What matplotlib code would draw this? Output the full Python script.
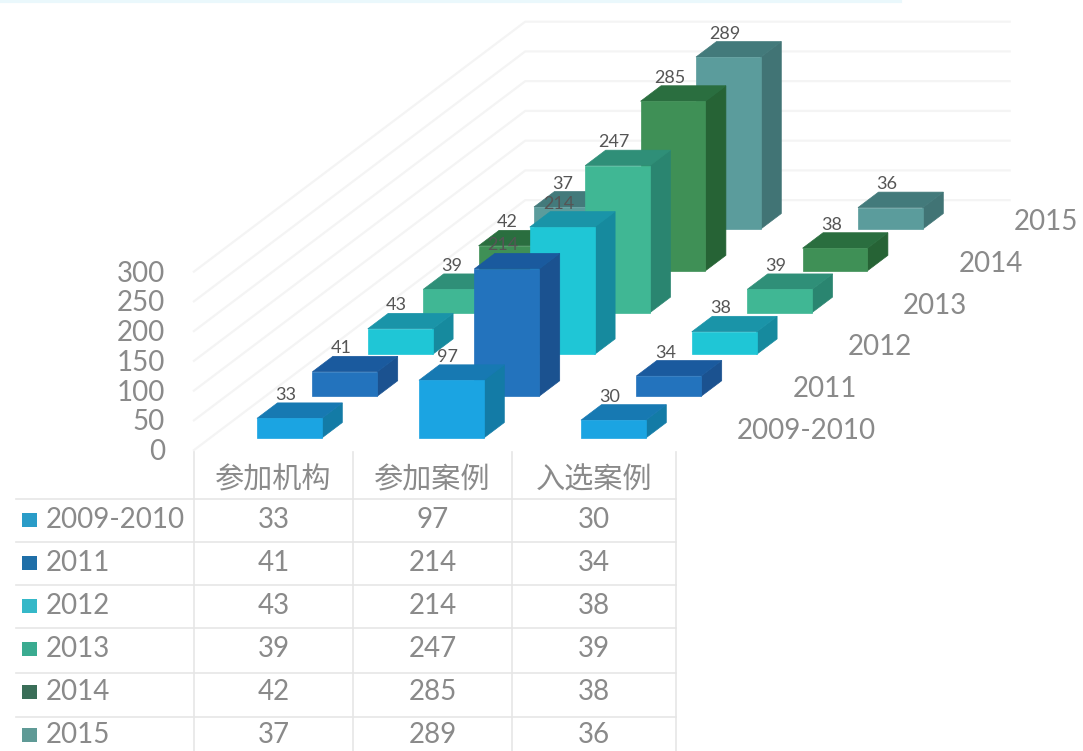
import matplotlib
matplotlib.use("Agg")
import matplotlib.pyplot as plt
from matplotlib.patches import Polygon, Rectangle

plt.rcParams["font.family"] = ["Lato", "Noto Sans CJK SC", "DejaVu Sans"]

years = ["2009-2010", "2011", "2012", "2013", "2014", "2015"]
categories = ["参加机构", "参加案例", "入选案例"]
institutions = [33, 41, 43, 39, 42, 37]
submitted = [97, 214, 214, 247, 285, 289]
selected = [30, 34, 38, 39, 38, 36]
series = [institutions, submitted, selected]
y_ticks = [0, 50, 100, 150, 200, 250, 300]

front_colors = ["#1ba4e2", "#2373bd", "#1fc6d6", "#40b794", "#3f9056", "#5b9c9c"]
top_colors = ["#1779b2", "#1a5a9e", "#1a94a8", "#2f8f78", "#2a6e3f", "#437a7b"]
side_colors = ["#137ba6", "#1b5290", "#168a9e", "#2a8570", "#266335", "#417475"]
legend_colors = ["#2a9cc8", "#1f6fa8", "#35b8c8", "#3aab90", "#3a6e58", "#5f9a96"]

GREY = "#8a8a8a"
GRID = "#f4f4f4"
BAR_W = 0.40
BAR_D = 0.37


# oblique projection, category / year depth / value to image pixels
def project(c, d, v):
    return 257 + 162 * c + 55.4 * d, 438 - 41.8 * d - 0.595 * v


def draw_bar(ax, c, d, v, i):
    p = project
    x0, x1 = c, c + BAR_W
    d1 = d + BAR_D
    front = [p(x0, d, 0), p(x1, d, 0), p(x1, d, v), p(x0, d, v)]
    top = [p(x0, d, v), p(x1, d, v), p(x1, d1, v), p(x0, d1, v)]
    side = [p(x1, d, 0), p(x1, d1, 0), p(x1, d1, v), p(x1, d, v)]
    for pts, col in [(side, side_colors[i]), (top, top_colors[i]), (front, front_colors[i])]:
        ax.add_patch(Polygon(pts, closed=True, facecolor=col, edgecolor=col, lw=0.5))


fig = plt.figure(figsize=(10.83, 7.51), dpi=100)
ax = fig.add_axes([0, 0, 1, 1])
ax.set_xlim(0, 1083)
ax.set_ylim(751, 0)
ax.axis("off")

# pale strip along the top edge of the screenshot
ax.plot([0, 900], [1, 1], color="#eaf8fc", lw=3)

# walls
for v in y_ticks:
    x0, y0 = project(-0.29, -0.29, v)
    x1, y1 = project(-0.29, 5.69, v)
    x2, y2 = project(2.70, 5.69, v)
    ax.plot([x0, x1, x2], [y0, y1, y2], color=GRID, lw=1.6, zorder=1)
    ax.text(165, project(-0.29, -0.29, v)[1] + 2, str(v), ha="right", va="center",
            fontsize=20, color=GREY)

# bars, back row first
for i in range(len(years) - 1, -1, -1):
    for c, vals in enumerate(series):
        draw_bar(ax, c, i, vals[i], i)

# value labels stay on top of the bars
for i in range(len(years) - 1, -1, -1):
    for c, vals in enumerate(series):
        x, y = project(c + BAR_W / 2, i + BAR_D, vals[i])
        ax.text(x - 24, y - 8, str(vals[i]), ha="center", va="center",
                fontsize=13, color="#555555", zorder=20)

# year labels along the depth axis
for i, name in enumerate(years):
    x, y = project(2, i, 0)
    ax.text(x + 156, y - 7, name, ha="left", va="center", fontsize=20, color=GREY)

# data table
col_edges = [194, 353, 512, 676]
row_edges = [499, 542, 585, 628, 673, 717]
line_col = "#e6e6e6"
for x in col_edges:
    ax.plot([x, x], [452, 751], color=line_col, lw=1.2)
for y in row_edges:
    ax.plot([16, 676], [y, y], color=line_col, lw=1.2)
for c, name in enumerate(categories):
    xc = (col_edges[c] + col_edges[c + 1]) / 2
    ax.text(xc, 480, name, ha="center", va="center", fontsize=21, color=GREY)
row_centers = [520, 563, 606, 649, 692, 735]
for i, name in enumerate(years):
    yc = row_centers[i]
    ax.add_patch(Rectangle((22, yc - 7), 15, 14, facecolor=legend_colors[i], edgecolor="none"))
    ax.text(46, yc, name, ha="left", va="center", fontsize=20, color=GREY)
    for c, vals in enumerate(series):
        xc = (col_edges[c] + col_edges[c + 1]) / 2
        ax.text(xc, yc, str(vals[i]), ha="center", va="center", fontsize=20, color=GREY)

fig.savefig("out.png", dpi=100)
plt.close(fig)
